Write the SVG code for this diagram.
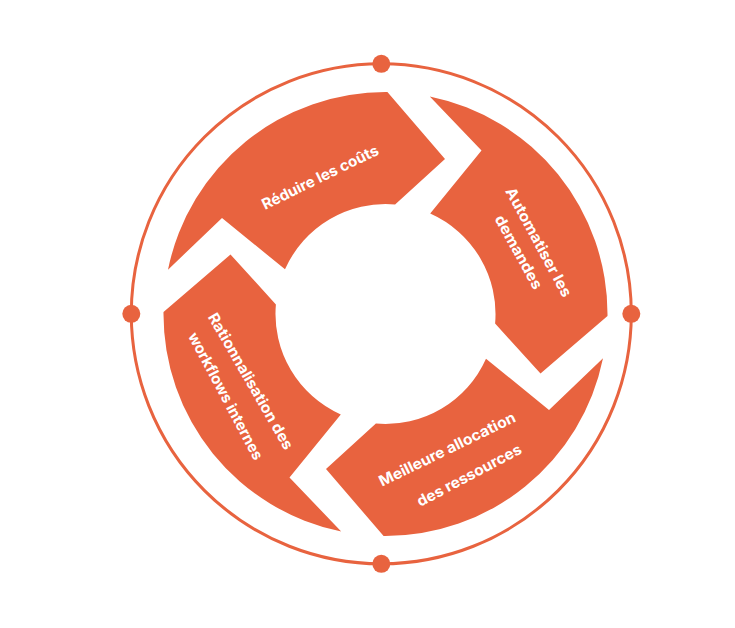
<svg xmlns="http://www.w3.org/2000/svg" width="735" height="628" viewBox="0 0 735 628">
<defs>
<style>
.seg{fill:#E8633F;}
.ring{fill:none;stroke:#E8633F;stroke-width:3;}
.dot{fill:#E8633F;}
.lbl{fill:#FFFFFF;font-family:Inter,"Open Sans","Liberation Sans",sans-serif;font-weight:700;font-size:15px;text-anchor:middle;dominant-baseline:central;}
</style>
<path id="arrowShape" d="M168,269.7 A222,222 0 0 1 387.4,92 L445,159 L395.1,204.4 A110,110 0 0 0 285,269.3 L222,218 Z"/>
</defs>
<rect width="735" height="628" fill="#FFFFFF"/>
<g id="outer-ring">
<circle class="ring" cx="381.3" cy="313.8" r="250"/>
<circle class="dot" cx="381.3" cy="63.8" r="9"/>
<circle class="dot" cx="631.3" cy="313.8" r="9"/>
<circle class="dot" cx="381.3" cy="563.8" r="9"/>
<circle class="dot" cx="131.3" cy="313.8" r="9"/>
</g>
<g id="connectors"></g>
<g id="node-reduire">
<use href="#arrowShape" class="seg"/>
<text class="lbl" x="320" y="177" transform="rotate(-26 320 177)" textLength="128" lengthAdjust="spacingAndGlyphs">Réduire les coûts</text>
</g>
<g id="node-automatiser">
<use href="#arrowShape" class="seg" transform="rotate(90 385.5 314)"/>
<text class="lbl" x="539" y="242" transform="rotate(61.5 539 242)" textLength="122" lengthAdjust="spacingAndGlyphs">Automatiser  les</text>
<text class="lbl" x="519" y="252" transform="rotate(61 519 252)" textLength="82" lengthAdjust="spacingAndGlyphs">demandes</text>
</g>
<g id="node-meilleure">
<use href="#arrowShape" class="seg" transform="rotate(180 385.5 314)"/>
<text class="lbl" x="447" y="449" transform="rotate(-26 447 449)" textLength="150" lengthAdjust="spacingAndGlyphs">Meilleure allocation</text>
<text class="lbl" x="469" y="475" transform="rotate(-28 469 475)" textLength="116" lengthAdjust="spacingAndGlyphs">des ressources</text>
</g>
<g id="node-rationnalisation">
<use href="#arrowShape" class="seg" transform="rotate(270 385.5 314)"/>
<text class="lbl" x="251" y="381" transform="rotate(60 251 381)" textLength="155" lengthAdjust="spacingAndGlyphs">Rationnalisation des</text>
<text class="lbl" x="226" y="396" transform="rotate(62 226 396)" textLength="142" lengthAdjust="spacingAndGlyphs">workflows internes</text>
</g>
</svg>
